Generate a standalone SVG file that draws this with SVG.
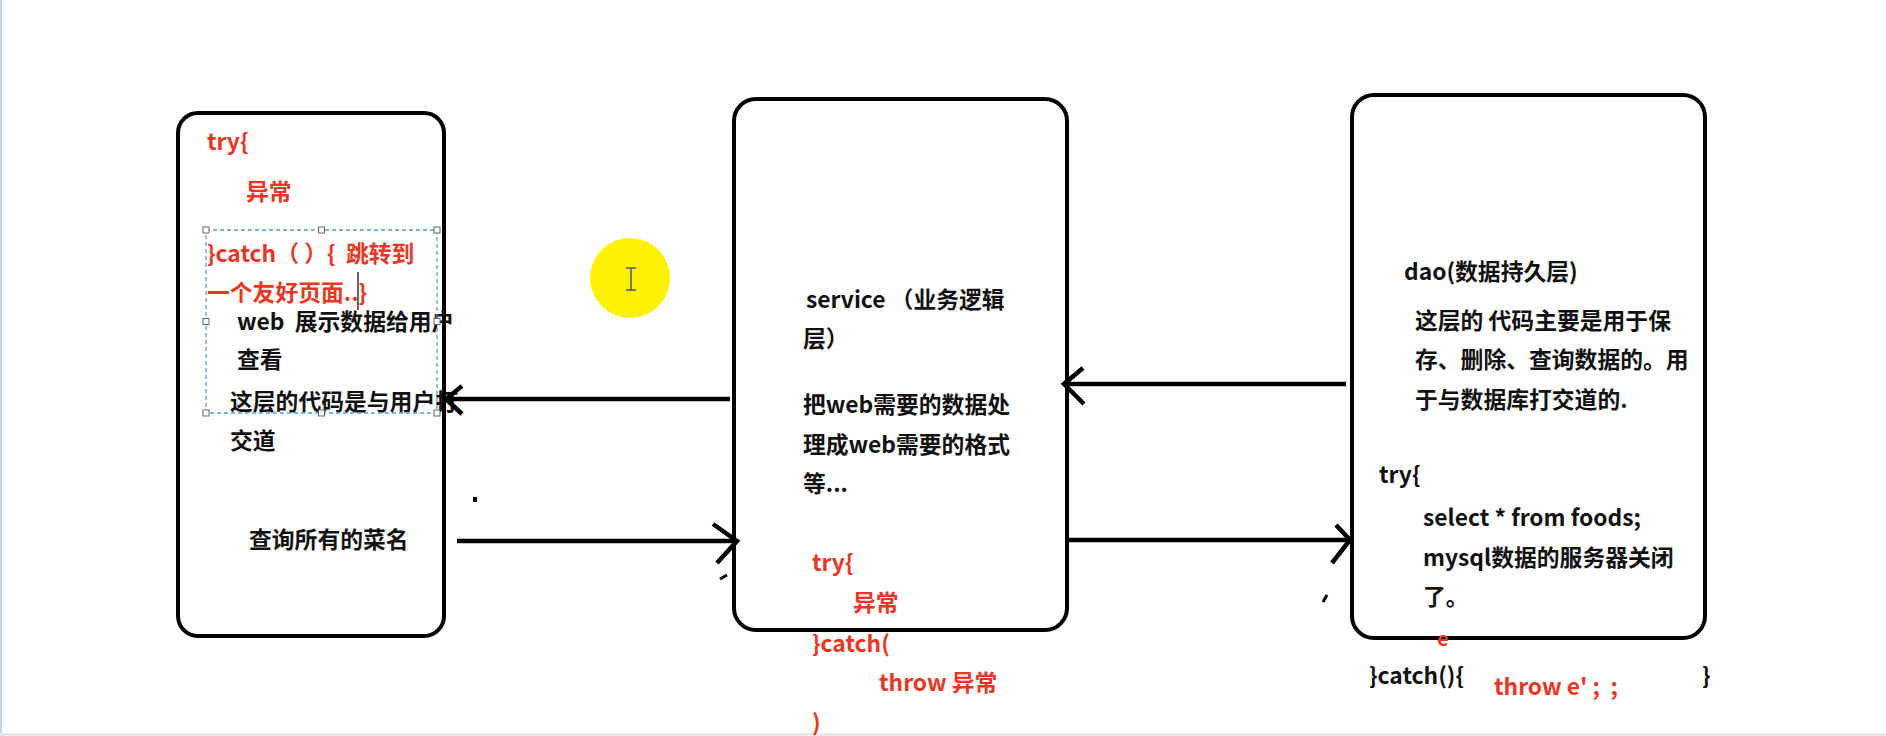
<svg xmlns="http://www.w3.org/2000/svg" width="1886" height="736" viewBox="0 0 1886 736">
<style>
.box{fill:none;stroke:#000;stroke-width:4}
.t{font-family:"Noto Sans CJK SC","Liberation Sans",sans-serif;font-size:22.8px;font-weight:700;white-space:pre}
.k{fill:#111}
.r{fill:#ee3524}
.arr{fill:none;stroke:#000;stroke-width:4.5;stroke-linecap:butt}
.hd{fill:none;stroke:#000;stroke-width:4.5;stroke-linecap:butt;stroke-linejoin:miter}
.hnd{fill:#fff;stroke:#666;stroke-width:1}
</style>
<rect x="0" y="0" width="1886" height="736" fill="#fff"/>
<rect x="0" y="0" width="2" height="736" fill="#c9d3e0"/>
<rect x="0" y="733" width="1886" height="3" fill="#e6e8eb"/>

<g id="node-web">
<rect class="box" x="178" y="113" width="266" height="523" rx="20"/>
<text class="t r" x="207" y="150">try{</text>
<text class="t r" x="246" y="200">异常</text>
<text class="t r" x="207" y="262">}catch（ ）{  跳转到</text>
<text class="t r" x="207" y="301">一个友好页面..}</text>
<text class="t k" x="237" y="330">web  展示数据给用户</text>
<text class="t k" x="237" y="368">查看</text>
<text class="t k" x="230" y="410">这层的代码是与用户打</text>
<text class="t k" x="230" y="449">交道</text>
<text class="t k" x="249" y="548">查询所有的菜名</text>
</g>

<g id="selection">
<rect x="206" y="230" width="231" height="183" fill="none" stroke="#5b9bd5" stroke-width="1.3" stroke-dasharray="4,3"/>
<rect class="hnd" x="203" y="227" width="6" height="6"/>
<rect class="hnd" x="318.5" y="227" width="6" height="6"/>
<rect class="hnd" x="434" y="227" width="6" height="6"/>
<rect class="hnd" x="203" y="318.5" width="6" height="6"/>
<rect class="hnd" x="434" y="318.5" width="6" height="6"/>
<rect class="hnd" x="203" y="410" width="6" height="6"/>
<rect class="hnd" x="318.5" y="410" width="6" height="6"/>
<rect class="hnd" x="434" y="410" width="6" height="6"/>
<line x1="358" y1="272" x2="358" y2="310" stroke="#000" stroke-width="1.2"/>
</g>

<g id="node-service">
<rect class="box" x="734" y="99" width="333" height="531" rx="22"/>
<text class="t k" x="806" y="308">service （业务逻辑</text>
<text class="t k" x="803" y="347">层）</text>
<text class="t k" x="803" y="413">把web需要的数据处</text>
<text class="t k" x="803" y="453">理成web需要的格式</text>
<text class="t k" x="803" y="492">等...</text>
<text class="t r" x="812" y="571">try{</text>
<text class="t r" x="853" y="611">异常</text>
<text class="t r" x="812" y="652">}catch(</text>
<text class="t r" x="879" y="691">throw 异常</text>
<text class="t r" x="812" y="731">)</text>
</g>

<g id="node-dao">
<rect class="box" x="1352" y="95" width="353" height="543" rx="22"/>
<text class="t k" x="1404" y="280">dao(数据持久层)</text>
<text class="t k" x="1415" y="329">这层的 代码主要是用于保</text>
<text class="t k" x="1415" y="368">存、删除、查询数据的。用</text>
<text class="t k" x="1415" y="408">于与数据库打交道的.</text>
<text class="t k" x="1379" y="483">try{</text>
<text class="t k" x="1423" y="526">select * from foods;</text>
<text class="t k" x="1423" y="566">mysql数据的服务器关闭</text>
<text class="t k" x="1423" y="605">了。</text>
<text class="t r" x="1437" y="646" style="font-size:20px">e</text>
<text class="t k" x="1369" y="684">}catch(){</text>
<text class="t r" x="1494" y="695">throw e' ;  ;</text>
<text class="t k" x="1702" y="684">}</text>
</g>

<g id="connectors">
<line class="arr" x1="730" y1="399" x2="446" y2="399"/>
<polyline class="hd" points="462,386 446,399 462,414"/>
<line class="arr" x1="457" y1="541" x2="737" y2="541"/>
<polyline class="hd" points="713,524 737,541 717,563"/>
<line class="arr" x1="1346" y1="384" x2="1064" y2="384"/>
<polyline class="hd" points="1083,368 1064,384 1084,404"/>
<line class="arr" x1="1067" y1="540" x2="1350" y2="540"/>
<polyline class="hd" points="1336,525 1350,540 1332,563"/>
</g>

<g id="marks">
<rect x="473" y="497" width="4" height="5" fill="#000"/>
<line x1="720" y1="579" x2="727" y2="575" stroke="#000" stroke-width="3"/>
<line x1="1323" y1="602" x2="1327" y2="595" stroke="#000" stroke-width="3"/>
</g>

<g id="cursor-highlight">
<circle cx="630" cy="278" r="40" fill="#fff200"/>
<path d="M626,268 H636 M631,268 V290 M626,290 H636" fill="none" stroke="#555" stroke-width="1.5"/>
</g>
</svg>
